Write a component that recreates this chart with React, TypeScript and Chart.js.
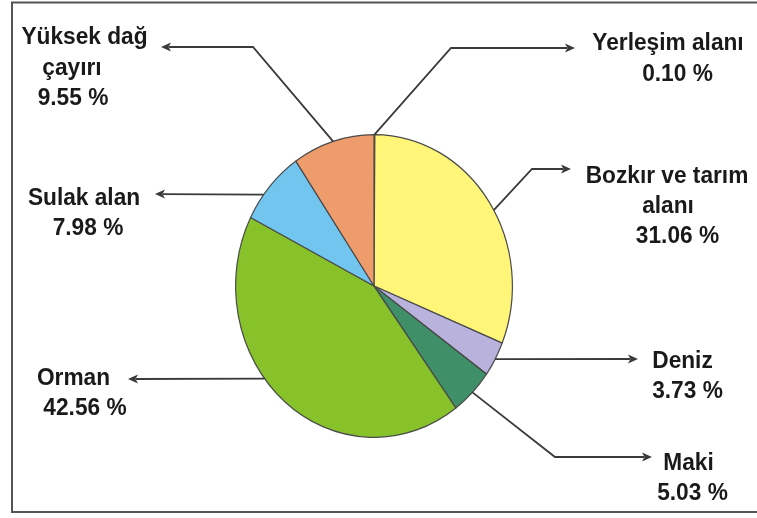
import React, { useEffect, useRef } from "react";
import { Chart, registerables } from "chart.js";

Chart.register(...registerables);

// ---- data ----
const categories = [
  "Yerleşim alanı",
  "Bozkır ve tarım alanı",
  "Deniz",
  "Maki",
  "Orman",
  "Sulak alan",
  "Yüksek dağ çayırı",
];
const labelLines = [
  ["Yerleşim alanı"],
  ["Bozkır ve tarım", "alanı"],
  ["Deniz"],
  ["Maki"],
  ["Orman"],
  ["Sulak alan"],
  ["Yüksek dağ", "çayırı"],
];
const values = [0.1, 31.06, 3.73, 5.03, 42.56, 7.98, 9.55];

// ---- styles / layout ----
const colors = ["#9a9a9a", "#FFF578", "#B8B2DC", "#3F9068", "#87C22A", "#72C5EE", "#EE9C6C"];
const SY = 1.094; // vertical stretch of the picture
const FONT = "bold 22.7px 'Liberation Sans', Arial, sans-serif";
const INK = "#1a1a1a";
const LINE = "#3a3a3a";

// per category: where on the slice the leader starts (fraction of slice),
// leader waypoints (elbow..tip), and text line anchors (center x, baseline y)
const callouts = [
  { frac: 0.5, path: [[451, 48], [575, 48]], text: [[668, 50], [677.5, 81]] },
  { frac: 0.533, path: [[532, 169], [571, 169]], text: [[667, 183], [668, 213], [677.5, 243]] },
  { frac: 0.5, path: [[638, 359]], text: [[682.5, 368], [687.5, 398]] },
  { frac: 0.5, path: [[555, 457], [652, 457]], text: [[688.5, 470], [692.5, 500]] },
  { frac: 0.578, path: [[128, 379]], text: [[73.5, 385], [85, 415]] },
  { frac: 0.355, path: [[155, 194]], text: [[84, 205], [88, 235]] },
  { frac: 0.5, path: [[253, 47], [161, 47]], text: [[84.5, 44], [72, 74.5], [73, 105]] },
];

const framePlugin = {
  id: "frame",
  beforeDraw(chart: any) {
    const ctx = chart.ctx;
    ctx.save();
    ctx.fillStyle = "#fff";
    ctx.fillRect(0, 0, chart.width, chart.height);
    ctx.strokeStyle = "#555";
    ctx.lineWidth = 2;
    ctx.beginPath();
    ctx.moveTo(chart.width, 2.5);
    ctx.lineTo(12, 2.5);
    ctx.lineTo(12, 512);
    ctx.lineTo(chart.width, 512);
    ctx.stroke();
    ctx.restore();
  },
};

const ellipsePlugin = {
  id: "ellipse",
  beforeDatasetsDraw(chart: any) {
    const arc = chart.getDatasetMeta(0).data[0];
    const ctx = chart.ctx;
    ctx.save();
    ctx.translate(arc.x, arc.y);
    ctx.scale(1, SY);
    ctx.translate(-arc.x, -arc.y);
  },
  afterDatasetsDraw(chart: any) {
    chart.ctx.restore();
  },
};

const calloutPlugin = {
  id: "callouts",
  afterDraw(chart: any) {
    const ctx = chart.ctx;
    const meta = chart.getDatasetMeta(0);
    ctx.save();
    meta.data.forEach((arc: any, i: number) => {
      const c = callouts[i];
      const p = arc.getProps(["x", "y", "startAngle", "endAngle", "outerRadius"], true);
      const a = p.startAngle + c.frac * (p.endAngle - p.startAngle);
      const sx = p.x + p.outerRadius * Math.cos(a);
      const sy = p.y + p.outerRadius * Math.sin(a) * SY;
      const pts: number[][] = [[sx, sy], ...c.path];
      const tip = pts[pts.length - 1];
      const prev = pts[pts.length - 2];
      const dx = tip[0] - prev[0];
      const dy = tip[1] - prev[1];
      const len = Math.hypot(dx, dy) || 1;
      const ux = dx / len;
      const uy = dy / len;
      const AL = 10;
      const AW = 4.5;
      ctx.strokeStyle = LINE;
      ctx.lineWidth = 1.8;
      ctx.beginPath();
      ctx.moveTo(pts[0][0], pts[0][1]);
      for (let k = 1; k < pts.length - 1; k++) ctx.lineTo(pts[k][0], pts[k][1]);
      ctx.lineTo(tip[0] - ux * AL * 0.8, tip[1] - uy * AL * 0.8);
      ctx.stroke();
      ctx.fillStyle = LINE;
      ctx.beginPath();
      ctx.moveTo(tip[0], tip[1]);
      ctx.lineTo(tip[0] - ux * AL - uy * AW, tip[1] - uy * AL + ux * AW);
      ctx.lineTo(tip[0] - ux * AL * 0.75, tip[1] - uy * AL * 0.75);
      ctx.lineTo(tip[0] - ux * AL + uy * AW, tip[1] - uy * AL - ux * AW);
      ctx.closePath();
      ctx.fill();

      const texts = [...labelLines[i], values[i].toFixed(2) + " %"];
      ctx.font = FONT;
      ctx.fillStyle = INK;
      ctx.textAlign = "center";
      ctx.textBaseline = "alphabetic";
      texts.forEach((t, k) => {
        const [tx, ty] = c.text[k];
        ctx.save();
        ctx.translate(tx, ty);
        ctx.scale(1, SY);
        ctx.fillText(t, 0, 0);
        ctx.restore();
      });
    });
    ctx.restore();
  },
};

export default function App() {
  const ref = useRef<HTMLCanvasElement | null>(null);
  useEffect(() => {
    if (!ref.current) return;
    const chart = new Chart(ref.current, {
      type: "pie",
      data: {
        labels: categories,
        datasets: [
          {
            data: values,
            backgroundColor: colors,
            borderColor: "#4a4a4a",
            borderWidth: 1.2,
          },
        ],
      },
      options: {
        responsive: false,
        animation: false,
        rotation: 0,
        layout: { padding: { left: 235, right: 244, top: 147, bottom: 93 } },
        plugins: { legend: { display: false }, tooltip: { enabled: false } },
      },
      plugins: [framePlugin, ellipsePlugin, calloutPlugin],
    });
    return () => chart.destroy();
  }, []);
  return (
    <div style={{ position: "absolute", left: 0, top: 0, width: 757, height: 518 }}>
      <canvas ref={ref} width={757} height={518} style={{ width: 757, height: 518, display: "block" }} />
    </div>
  );
}
